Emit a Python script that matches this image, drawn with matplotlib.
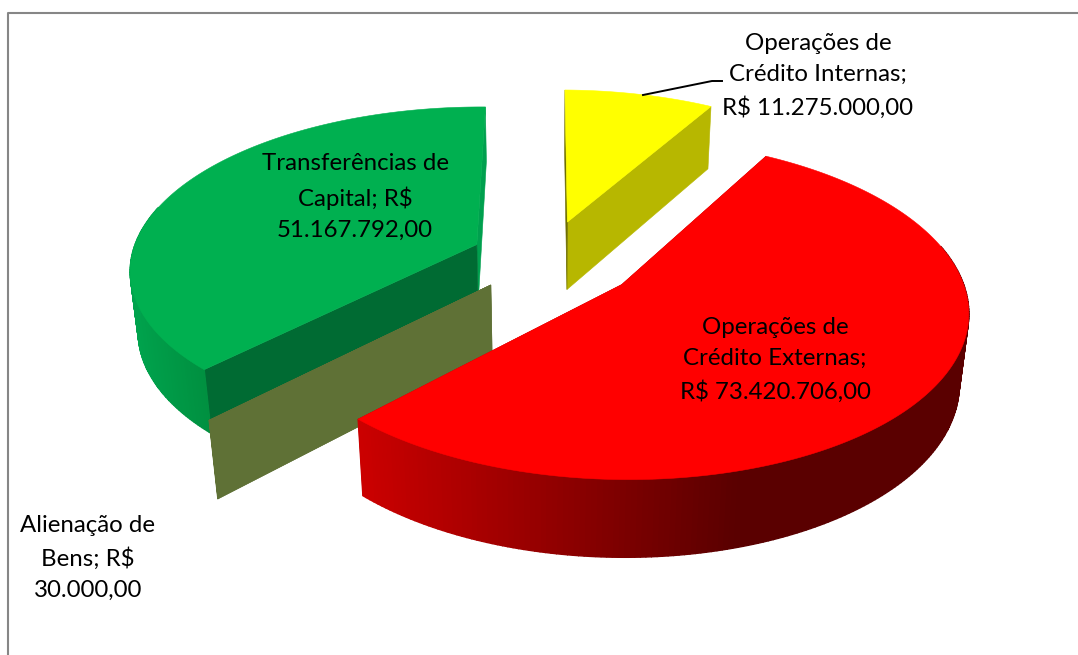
import numpy as np
import matplotlib
matplotlib.use("Agg")
import matplotlib.pyplot as plt
from matplotlib.patches import Polygon
from matplotlib.colors import to_rgb

categories = ["Operações de\nCrédito Internas;\nR$ 11.275.000,00",
              "Operações de\nCrédito Externas;\nR$ 73.420.706,00",
              "Alienação de\nBens; R$\n30.000,00",
              "Transferências de\nCapital; R$\n51.167.792,00"]
values = [11275000.0, 73420706.0, 30000.0, 51167792.0]
explode = [0.24, 0.27, 0.23, 0.225]
depths = [0.44, 0.45, 0.46, 0.38]
top_colors = ["#FFFF00", "#FF0000", "#5F7136", "#00B050"]
start_colors = ["#6E6E00", "#B00000", "#5F7136", "#006B33"]
end_colors = ["#B7B700", "#B00000", "#5F7136", "#00A04E"]
rim_left = ["#B7B700", "#CC0000", "#5F7136", "#00A34D"]
rim_right = ["#B7B700", "#5A0000", "#5F7136", "#009040"]
label_xy = [(818, 76), (775, 360), (88, 558), (355, 197)]

W, H = 1078, 655
CX, CY = 547.0, 258.0
A, B, K, M, Q, HS = 340.0, 160.0, 0.14, 0.012, 0.05, 160.0


def project(x, y, z=0.0):
    w = 1 + K * y + M * x - Q * z
    return CX + A * x / w, CY - (B * y + HS * z) / w


fig = plt.figure(figsize=(W / 100, H / 100), dpi=100)
ax = fig.add_axes([0, 0, 1, 1])
ax.set_xlim(0, W)
ax.set_ylim(H, 0)
ax.axis("off")

ax.plot([8, 8, W], [H, 13, 13], color="#868686", lw=1.5, zorder=1)

fractions = np.array(values) / np.sum(values)
ends = np.cumsum(fractions) * 2 * np.pi
starts = ends - fractions * 2 * np.pi


def mix(c1, c2, t):
    c1, c2 = np.array(to_rgb(c1)), np.array(to_rgb(c2))
    return tuple(c1 + (c2 - c1) * t)


def face(pts, color, z, lw=0.4):
    ax.add_patch(Polygon(pts, closed=True, facecolor=color, edgecolor=color, lw=lw, zorder=z))


def draw_slice(i, z0):
    a0, a1 = starts[i], ends[i]
    mid = (a0 + a1) / 2
    ox, oy = explode[i] * np.sin(mid), explode[i] * np.cos(mid)
    h = depths[i]
    th = np.linspace(a0, a1, 240) if a1 - a0 > 0.01 else np.array([a0, a1])
    rx, ry = ox + np.sin(th), oy + np.cos(th)
    top = np.array(project(rx, ry)).T
    bot = np.array(project(rx, ry, -h)).T
    apex_t = project(ox, oy)
    apex_b = project(ox, oy, -h)
    face([apex_t, top[-1], bot[-1], apex_b], end_colors[i], z0 + 0.1)
    face([apex_t, top[0], bot[0], apex_b], start_colors[i], z0 + 0.15)
    vis = np.cos(th) < 0.25
    idx = np.where(vis)[0]
    if len(idx) > 1:
        lo, hi = top[idx, 0].min(), top[idx, 0].max()
        for j in idx[:-1]:
            if not vis[j + 1]:
                continue
            t = (top[j, 0] - lo) / max(hi - lo, 1)
            c = mix(rim_left[i], rim_right[i], min(1, t * (1.6 if i == 1 else 1)))
            face([top[j], top[j + 1], bot[j + 1], bot[j]], c, z0 + 0.2, lw=1.0)
    face(np.vstack([[apex_t], top]), top_colors[i], z0 + 0.3)


for order, i in enumerate([0, 3, 2, 1]):
    draw_slice(i, 2 + order)

for lab, (x, y) in zip(categories, label_xy):
    ax.text(x, y, lab, ha="center", va="center", fontsize=17.3, family="Lato",
            color="black", linespacing=1.6, zorder=20)

ax.plot([643, 712, 722], [95, 81, 81], color="black", lw=1.4, zorder=20)

fig.savefig("out.png", dpi=100)
